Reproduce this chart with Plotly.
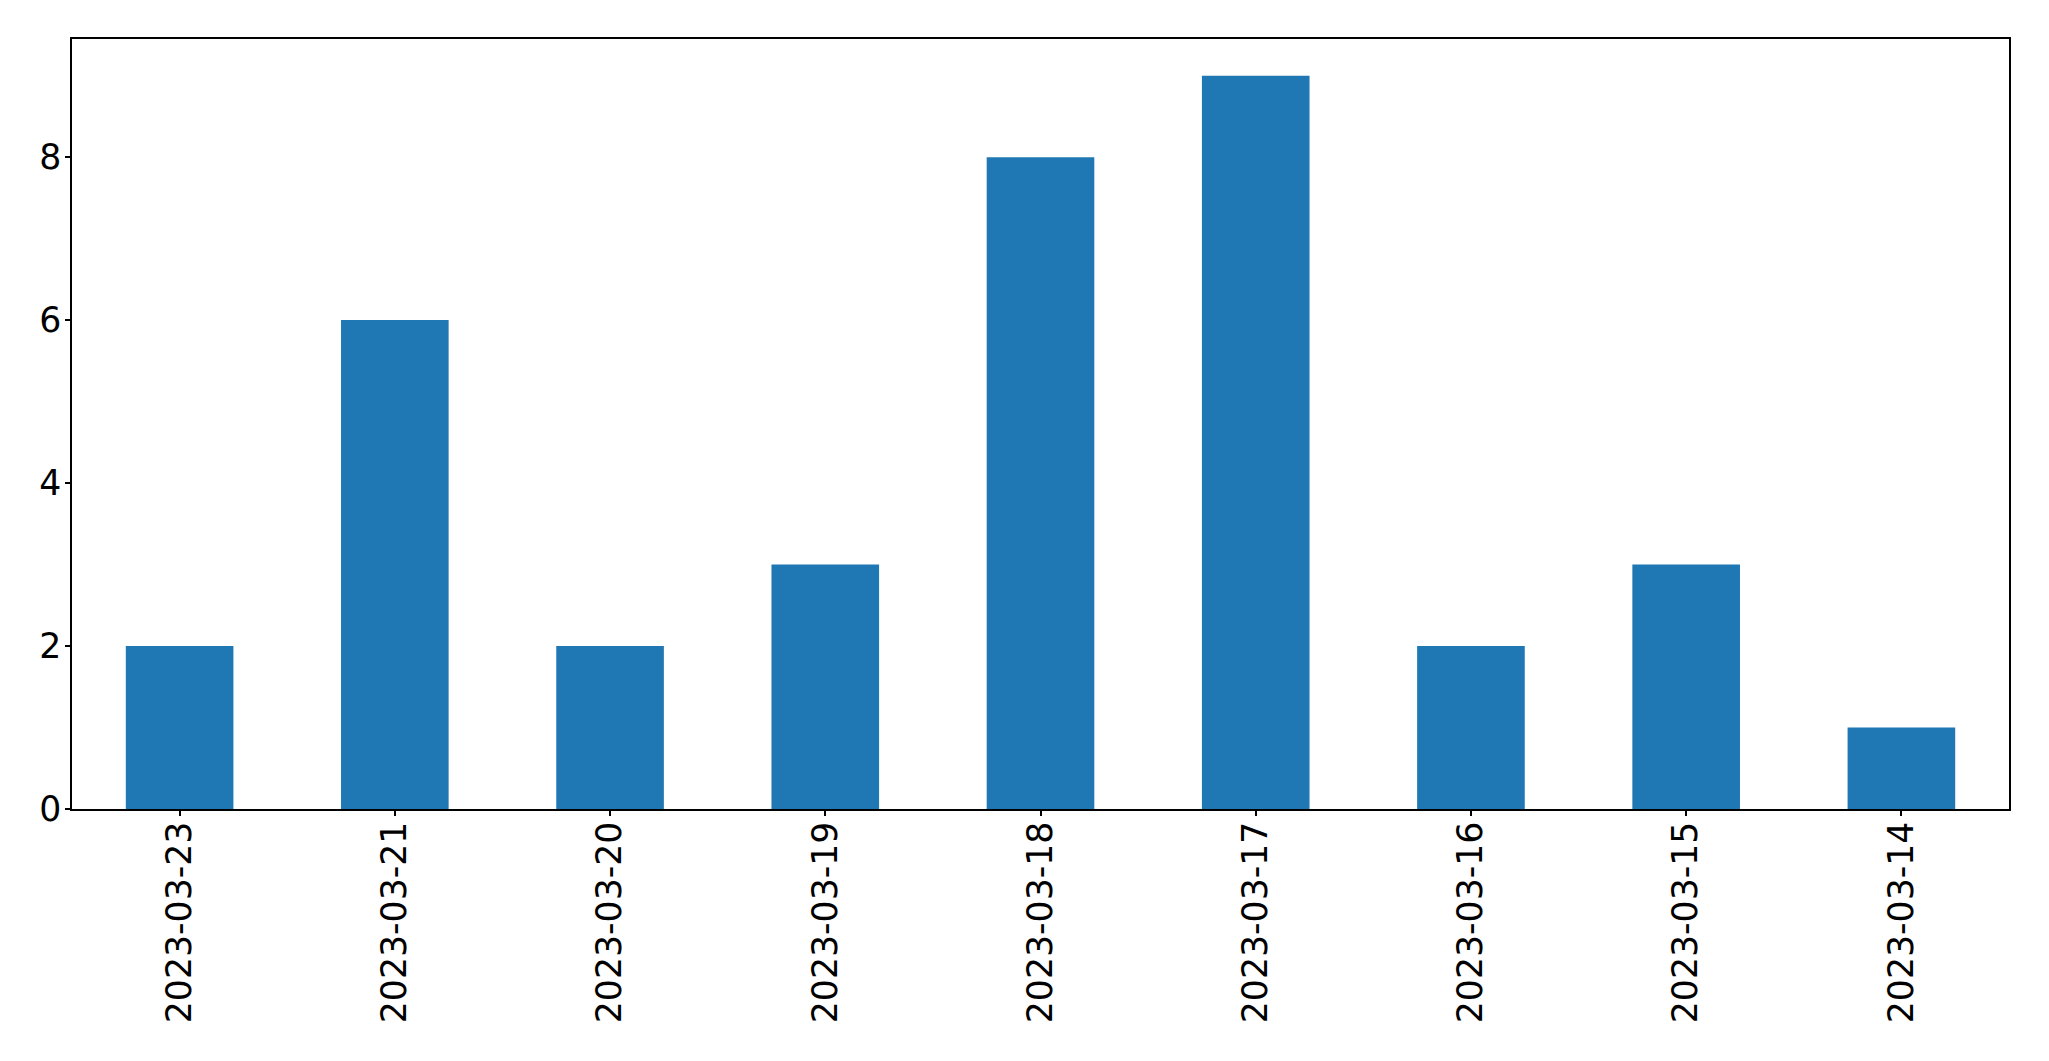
import plotly.graph_objects as go

dates = ["2023-03-23", "2023-03-21", "2023-03-20", "2023-03-19", "2023-03-18",
         "2023-03-17", "2023-03-16", "2023-03-15", "2023-03-14"]
counts = [2, 6, 2, 3, 8, 9, 2, 3, 1]
y_ticks = [0, 2, 4, 6, 8]

fig = go.Figure(go.Bar(x=dates, y=counts, width=0.5, marker=dict(color="#1f77b4", line=dict(width=0))))

# page body has an 8px offset, so margins are shifted to compensate
fig.update_layout(
    width=2049, height=1061,
    margin=dict(l=64, r=48, t=31, b=260, autoexpand=False),
    paper_bgcolor="white", plot_bgcolor="white",
    font=dict(family="DejaVu Sans", size=34.7, color="black"),
    showlegend=False,
)
fig.update_xaxes(
    type="category", range=[-0.5, 8.5], tickangle=-90, automargin=False,
    showline=True, linecolor="black", linewidth=1.5, mirror=True,
    ticks="outside", ticklen=5, tickwidth=1.5, tickcolor="black",
    showgrid=False, zeroline=False, ticklabelstandoff=-8,
)
fig.update_yaxes(
    range=[0, 9.45], tickvals=y_ticks, automargin=False,
    showline=True, linecolor="black", linewidth=1.5, mirror=True,
    ticks="outside", ticklen=5, tickwidth=1.5, tickcolor="black",
    showgrid=False, zeroline=False, ticklabelstandoff=-3,
)
fig.write_html("out.html")
